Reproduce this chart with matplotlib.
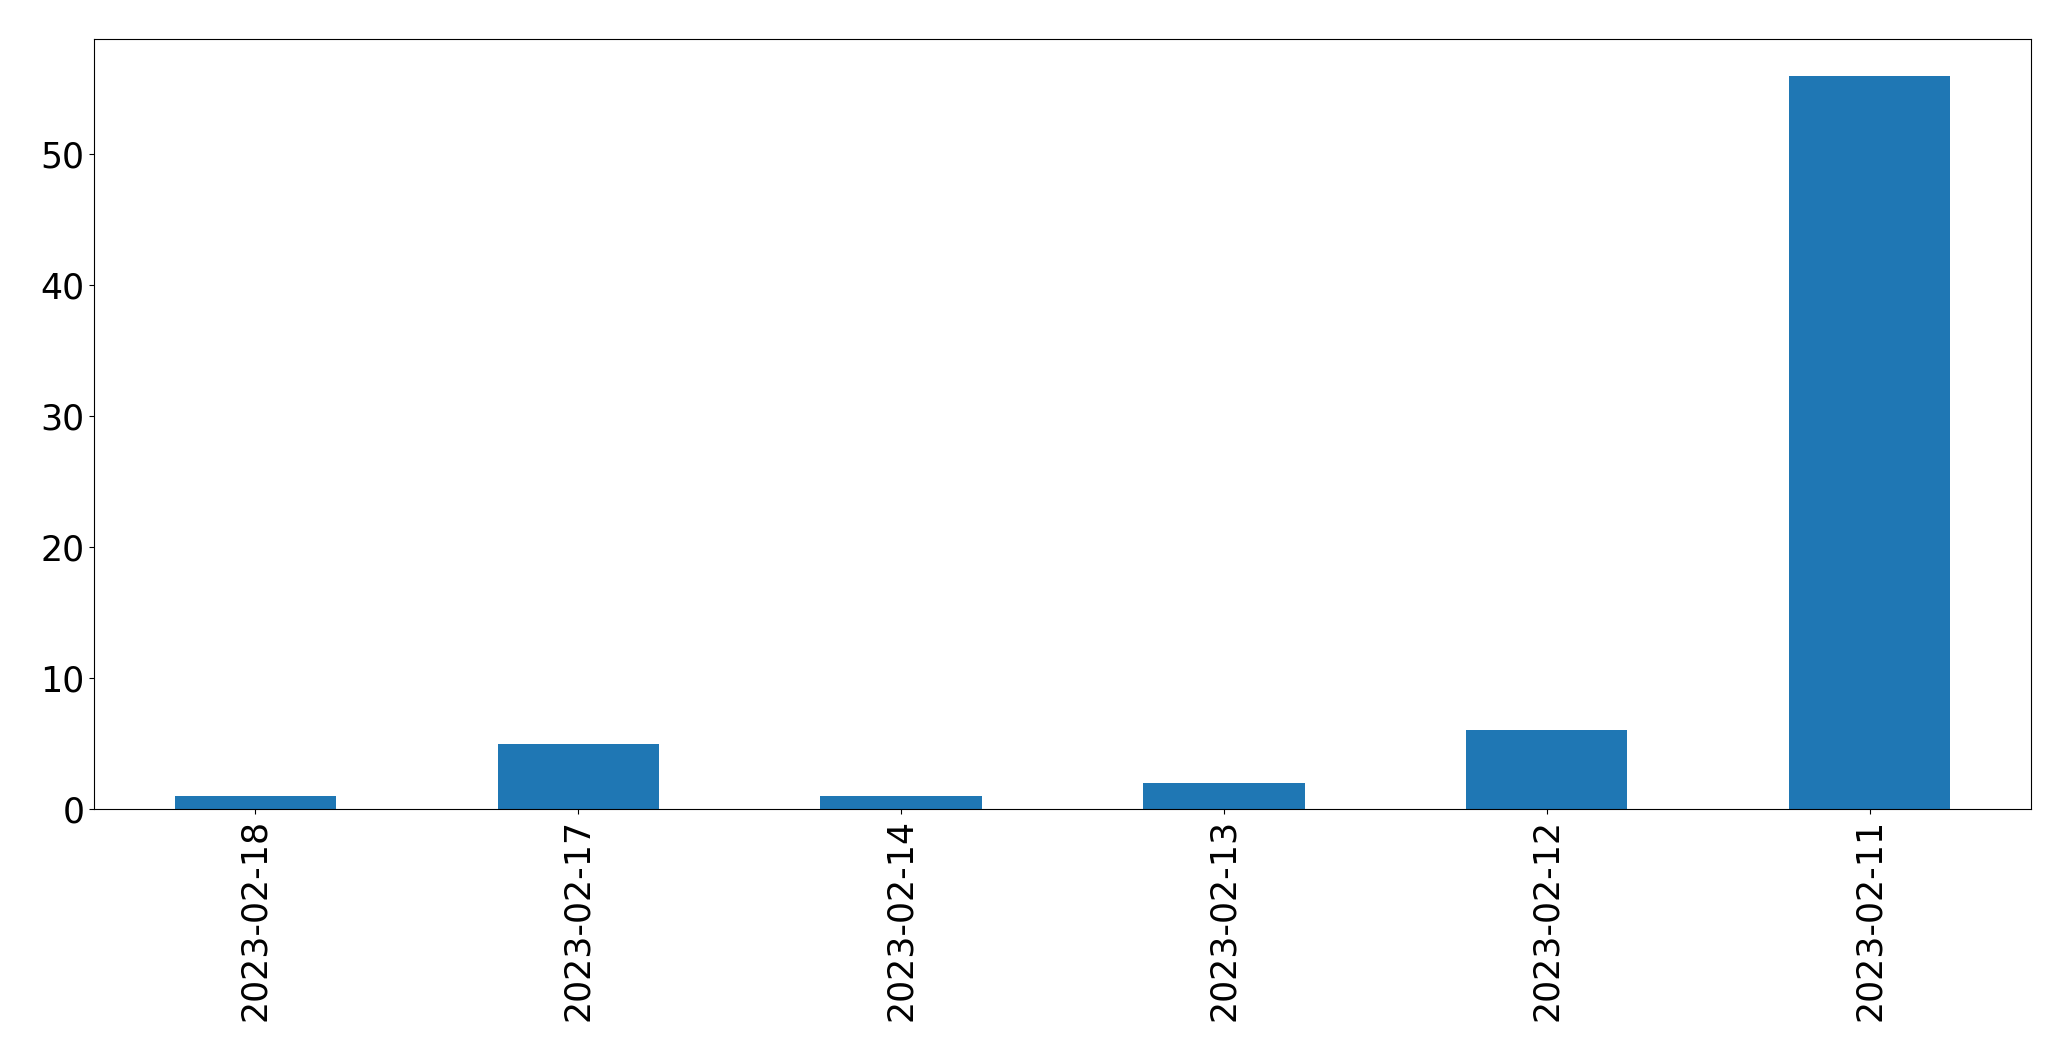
import matplotlib
matplotlib.use("Agg")
import matplotlib.pyplot as plt
import numpy as np

dates = ['2023-02-18', '2023-02-17', '2023-02-14', '2023-02-13', '2023-02-12', '2023-02-11']
counts = [1, 5, 1, 2, 6, 56]

fig = plt.figure(figsize=(20.71, 10.61), dpi=100)
ax = fig.add_axes([94 / 2071, 1 - 809 / 1061, (2031 - 94) / 2071, (809 - 39) / 1061])

x = np.arange(len(dates))
ax.bar(x, counts, width=0.5, color='#1f77b4')
ax.set_xticks(x)
ax.set_xticklabels(dates, rotation=90)
ax.set_xlim(-0.5, len(dates) - 0.5)
ax.set_ylim(0, max(counts) * 1.05)
ax.tick_params(axis='both', labelsize=25)

fig.savefig('out.png', dpi=100)
